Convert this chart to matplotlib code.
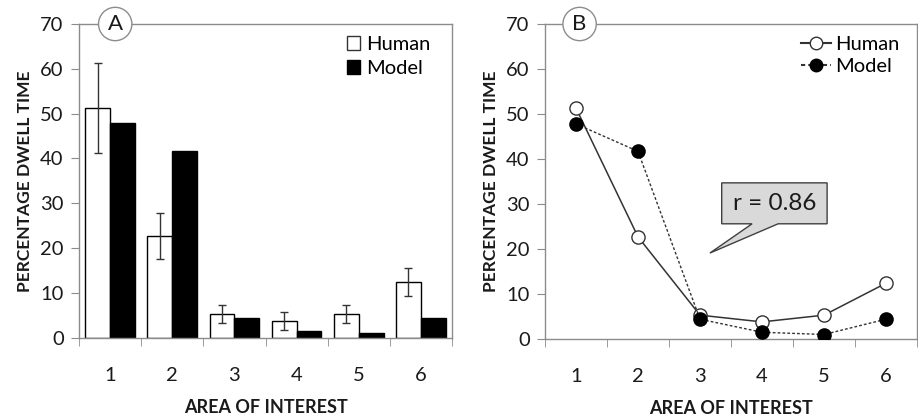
import numpy as np
import matplotlib
matplotlib.use('Agg')
from matplotlib import pyplot as plt
from matplotlib.patches import Polygon, Patch
from matplotlib.lines import Line2D

plt.rcParams['font.family'] = ['Lato', 'DejaVu Sans']

areas = [1, 2, 3, 4, 5, 6]
human = [51.3, 22.7, 5.3, 3.8, 5.3, 12.4]
human_err = [10.0, 5.1, 2.0, 2.0, 2.0, 3.1]
model = [47.8, 41.7, 4.4, 1.5, 1.0, 4.4]
r_text = 'r = 0.86'

GRAY = '#8c8c8c'
TXT = '#1a1a1a'

fig = plt.figure(figsize=(9.18, 4.2), dpi=100)
axA = fig.add_axes([79/918, 1-337.7/420, 373/918, (337.7-24)/420])
axB = fig.add_axes([545/918, 1-339/420, 372/918, (339-24)/420])

x = np.array(areas)
w = 0.4
axA.bar(x - w/2, human, w, color='white', edgecolor='black', linewidth=1.0,
        yerr=human_err, error_kw=dict(ecolor='#333333', elinewidth=1.0, capsize=3, capthick=1.0))
axA.bar(x + w/2, model, w, color='black', edgecolor='black', linewidth=1.0)

dots = (0, (2.0, 1.5))
axB.plot(x, human, '-', color='#333333', linewidth=1.1, marker='o', markersize=9.5,
         markerfacecolor='white', markeredgecolor='#333333', markeredgewidth=1.0, zorder=3)
axB.plot(x, model, linestyle=dots, color='#333333', linewidth=1.0, marker='o', markersize=9.5,
         markerfacecolor='black', markeredgecolor='black', zorder=4)

for ax, lab in [(axA, 'A'), (axB, 'B')]:
    ax.set_xlim(0.5, 6.5)
    ax.set_ylim(0, 70)
    ax.set_yticks(range(0, 71, 10))
    ax.set_xticks(areas)
    ax.set_xticks(np.arange(0.5, 6.6, 1), minor=True)
    ax.tick_params(axis='x', which='major', length=0, pad=21, labelsize=14.5, labelcolor=TXT)
    ax.tick_params(axis='x', which='minor', length=6, direction='out', color=GRAY)
    ax.tick_params(axis='y', length=6, direction='out', color=GRAY, labelsize=14.5, labelcolor=TXT, pad=5)
    for s in ax.spines.values():
        s.set_color(GRAY)
        s.set_linewidth(1.0)
    ax.set_xlabel('AREA OF INTEREST', fontsize=13, fontweight='bold', color=TXT, labelpad=11)
    ax.set_ylabel('PERCENTAGE DWELL TIME', fontsize=12.5, fontweight='bold', color=TXT, labelpad=5)
    ax.text(0.097 if lab == 'A' else 0.093, 1.0, lab, transform=ax.transAxes, ha='center', va='center',
            fontsize=16, color=TXT, zorder=10, clip_on=False,
            bbox=dict(boxstyle='circle,pad=0.3', facecolor='white', edgecolor=GRAY, linewidth=1.0))

hA = [Patch(facecolor='white', edgecolor='#333333', label='Human'),
      Patch(facecolor='black', edgecolor='black', label='Model')]
axA.legend(handles=hA, loc='upper right', frameon=False, fontsize=14.5, handlelength=0.65,
           handleheight=0.65, handletextpad=0.3, labelspacing=0.35, borderaxespad=0.2,
           bbox_to_anchor=(0.975, 1.0))

hB = [Line2D([], [], color='#333333', linestyle='-', marker='o', markersize=9,
             markerfacecolor='white', markeredgecolor='#333333', label='Human'),
      Line2D([], [], color='#333333', linestyle=dots, marker='o', markersize=9,
             markerfacecolor='black', markeredgecolor='black', label='Model')]
axB.legend(handles=hB, loc='upper right', frameon=False, fontsize=14.5, handlelength=1.5,
           handletextpad=0.2, labelspacing=0.25, borderaxespad=0.2, bbox_to_anchor=(0.985, 1.0))

# callout box with pointer
box = [(3.84, 25.6), (3.35, 25.6), (3.35, 34.7), (5.05, 34.7), (5.05, 25.6),
       (4.26, 25.6), (3.16, 19.1)]
axB.add_patch(Polygon(box, closed=True, facecolor='#d9d9d9', edgecolor='#404040', linewidth=1.0, zorder=5))
axB.text(4.2, 30.0, r_text, ha='center', va='center', fontsize=17.5, color=TXT, zorder=6)

fig.savefig('out.png', dpi=100)
